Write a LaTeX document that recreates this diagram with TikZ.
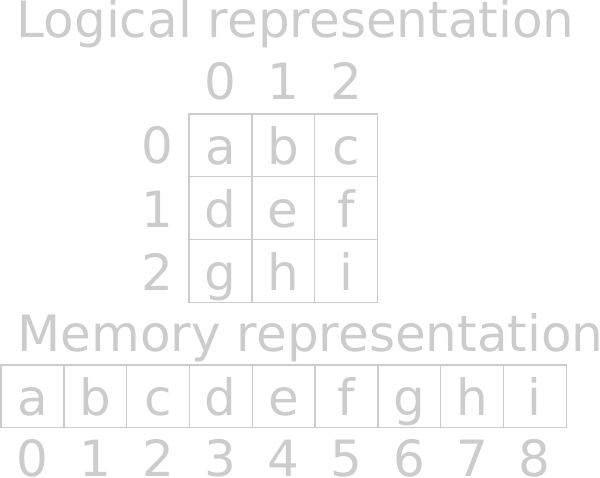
\documentclass[tikz,border=0pt]{standalone}
\usepackage{fontspec}
\setmainfont{DejaVu Sans}
\definecolor{lite}{HTML}{CCCCCC}
\begin{document}
\begin{tikzpicture}[x=1pt,y=-1pt,
  every node/.style={text=lite,font=\fontsize{50}{60}\selectfont},
  lbl/.style={inner sep=0pt,anchor=base},
  title/.style={inner sep=0pt,anchor=base west},
  cell/.style={draw=lite,line width=1.4pt,minimum width=62.8pt,minimum height=62.8pt,inner sep=0pt,text height=39pt,text depth=0pt}]
\useasboundingbox (0,0) rectangle (600,478);
\node[title] (t1) at (16.5,38) {Logical representation};
\foreach \c [count=\i from 0] in {0,1,2}{
  \node[lbl] (col\i) at ({220.4+62.8*\i},100) {\c};
  \node[lbl] (row\i) at (157,{164+63.5*\i}) {\c};
}
\foreach \l [count=\k from 0] in {a,b,c,d,e,f,g,h,i}{
  \pgfmathtruncatemacro{\r}{int(\k/3)}
  \pgfmathtruncatemacro{\q}{mod(\k,3)}
  \node[cell] (g\k) at ({220.4+62.8*\q},{145.4+62.8*\r}) {\l};
}
\node[title] (t2) at (17.5,352) {Memory representation};
\foreach \l [count=\k from 0] in {a,b,c,d,e,f,g,h,i}{
  \node[cell,minimum height=62.3pt] (m\k) at ({32.4+62.8*\k},396.2) {\l};
  \node[lbl] (n\k) at ({32.4+62.8*\k},476) {\k};
}
\end{tikzpicture}
\end{document}
